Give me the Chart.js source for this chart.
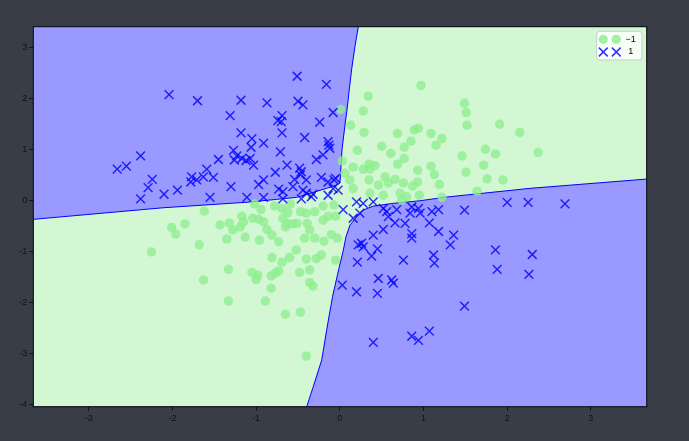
<!DOCTYPE html>
<html>
<head>
<meta charset="utf-8">
<script src="https://cdn.jsdelivr.net/npm/chart.js@4.4.1/dist/chart.umd.min.js"></script>
<style>
html,body{margin:0;padding:0;background:#383d48;}
#marco{width:689px;height:441px;}
</style>
</head>
<body>
<div id="marco"><canvas id="graficoRegiones" width="689" height="441"></canvas></div>
<script>

// limites de los ejes y marcas
const xLimits = [-3.662, 3.667];
const yLimits = [-4.04, 3.40];
const xTicks = [-3, -2, -1, 0, 1, 2, 3];
const yTicks = [-4, -3, -2, -1, 0, 1, 2, 3];

// clases
const classLabels = ["\u22121", "1"];

// clase -1 (circulos verdes)
const pointsNeg = [
    [0.97,2.25],[0.34,2.04],[0.01,1.78],[0.28,1.75],[1.49,1.90],[1.51,1.72],[1.52,1.47],[1.91,1.49],
    [2.15,1.33],[2.37,0.94],[0.13,1.47],[0.29,1.33],[0.69,1.31],[0.89,1.38],[0.94,1.41],[1.09,1.31],
    [1.22,1.21],[1.15,1.08],[0.85,1.16],[0.77,1.04],[0.50,1.06],[0.61,0.92],[0.77,0.82],[0.69,0.71],
    [0.21,0.98],[0.03,0.77],[0.16,0.65],[0.28,0.61],[0.35,0.71],[0.42,0.68],[0.36,0.61],[0.93,0.59],
    [1.09,0.67],[1.13,0.51],[1.46,0.87],[1.74,1.00],[1.86,0.91],[1.51,0.55],[1.72,0.69],[1.76,0.42],
    [1.95,0.40],[1.64,0.18],[0.54,0.46],[0.66,0.41],[0.76,0.34],[0.46,0.30],[0.58,0.34],[0.35,0.40],
    [0.12,0.40],[0.06,0.53],[0.16,0.23],[0.36,0.14],[0.52,0.10],[0.72,0.14],[0.80,0.07],[0.93,0.36],
    [0.87,0.28],[1.19,0.31],[0.95,0.10],[1.22,0.06],[0.74,0.01],
    [-1.62,-0.21],[-2.01,-0.53],[-1.96,-0.66],[-1.85,-0.46],[-2.25,-1.01],[-1.68,-0.87],[-1.63,-1.56],
    [-1.43,-0.48],[-1.32,-0.44],[-1.28,-0.58],[-1.35,-0.76],[-1.17,-0.31],[-1.15,-0.42],[-1.19,-0.52],
    [-1.04,-0.35],[-1.13,-0.72],[-1.02,-0.07],[-0.94,-0.18],[-0.97,-0.37],[-0.91,-0.42],[-0.87,-0.57],
    [-0.96,-0.78],[-0.81,-0.68],[-0.73,-0.81],[-0.78,-0.11],[-0.69,-0.16],[-0.59,-0.07],[-0.62,-0.24],
    [-0.68,-0.35],[-0.63,-0.45],[-0.65,-0.52],[-0.56,-0.46],[-0.47,-0.22],[-0.40,-0.25],[-0.30,-0.22],
    [-0.20,-0.11],[-0.07,-0.09],[-0.14,-0.31],[-0.05,-0.31],[-0.20,-0.39],[-0.36,-0.58],[-0.30,-0.74],
    [-0.42,-0.74],[-0.19,-0.80],[-0.10,-0.67],[-0.03,-0.74],[-0.51,-0.45],[-0.39,-0.45],[-0.52,-0.97],
    [-0.40,-1.15],[-0.28,-1.14],[-0.22,-1.07],[-0.60,-1.12],[-0.69,-1.21],[-0.81,-1.12],[-0.73,-1.38],
    [-0.77,-1.42],[-0.82,-1.48],[-0.48,-1.41],[-0.36,-1.36],[-0.05,-1.17],[-1.33,-1.35],[-1.05,-1.41],
    [-0.98,-1.46],[-1.00,-1.55],[-0.82,-1.72],[-0.36,-1.61],[-0.32,-1.68],[-1.33,-1.97],[-0.89,-1.97],
    [-0.65,-2.23],[-0.47,-2.19],[-0.40,-3.05]
];

// clase 1 (cruces azules)
const pointsPos = [
    [-2.04,2.07],[-1.70,1.95],[-1.18,1.96],[-0.87,1.91],[-0.50,1.94],[-0.44,1.87],[-0.16,2.27],[-0.51,2.43],
    [-1.31,1.66],[-0.69,1.66],[-0.74,1.56],[-0.70,1.54],[-0.08,1.72],[-0.24,1.53],[-1.18,1.32],[-0.69,1.32],
    [-1.05,1.21],[-0.91,1.12],[-0.42,1.23],[-1.06,1.04],[-1.27,0.98],[-0.71,0.95],[-0.14,1.15],[-0.13,1.08],
    [-0.12,1.02],[-0.20,0.89],[-0.28,0.80],[-1.23,0.87],[-1.17,0.82],[-1.26,0.79],[-1.07,0.82],[-1.12,0.78],
    [-1.03,0.69],[-1.45,0.80],[-2.38,0.87],[-2.55,0.67],[-2.66,0.61],[-1.59,0.61],[-1.63,0.46],[-1.51,0.45],
    [-1.77,0.46],[-1.71,0.40],[-1.78,0.36],[-2.24,0.41],[-2.29,0.25],[-2.38,0.03],[-2.10,0.12],[-1.94,0.20],
    [-1.55,0.06],[-1.30,0.27],[-0.77,0.55],[-0.63,0.69],[-0.48,0.63],[-0.47,0.50],[-0.54,0.41],[-0.40,0.40],
    [-0.22,0.45],[-0.91,0.40],[-0.97,0.31],[-0.73,0.22],[-0.68,0.17],[-0.56,0.27],[-0.44,0.20],[-0.40,0.14],
    [-0.32,0.12],[-0.34,0.07],[-1.11,0.06],[-0.91,0.06],[-0.68,0.03],[-0.46,0.03],[-0.14,0.10],[-0.07,0.40],
    [-0.08,0.23],[-0.02,0.20],[-0.05,0.43],[-0.14,0.36],[-0.46,0.56],
    [0.04,-0.18],[0.20,-0.03],[0.28,-0.06],[0.40,-0.03],[0.16,-0.35],[0.24,-0.25],[0.52,-0.16],[0.56,-0.22],
    [0.68,-0.18],[0.86,-0.13],[0.94,-0.16],[0.84,-0.25],[0.96,-0.25],[0.66,-0.44],[0.78,-0.45],[0.58,-0.32],
    [1.10,-0.22],[1.18,-0.18],[1.07,-0.44],[1.18,-0.61],[1.49,-0.19],[2.00,-0.04],[2.25,-0.04],[2.69,-0.07],
    [0.52,-0.57],[0.40,-0.68],[0.86,-0.65],[0.86,-0.74],[1.36,-0.68],[1.32,-0.87],[0.22,-0.87],[0.26,-0.84],
    [0.28,-0.91],[0.45,-0.95],[0.38,-1.09],[0.21,-1.21],[0.76,-1.17],[1.12,-1.07],[1.13,-1.23],[1.86,-0.97],
    [2.30,-1.06],[1.88,-1.35],[2.26,-1.45],[0.46,-1.53],[0.62,-1.56],[0.64,-1.62],[0.03,-1.66],[0.20,-1.79],
    [0.45,-1.82],[1.49,-2.07],[0.86,-2.66],[0.94,-2.74],[1.07,-2.56],[0.40,-2.78]
];

// fronteras de decision
const edgeUpperLeft = [
    [-3.662,-0.372],[-2.109,-0.145],[-1.073,-0.033],[-0.754,0.02],[-0.515,0.059],[-0.356,0.137],
    [-0.157,0.235],[-0.037,0.30],[0.002,0.339],[0.014,0.65],[0.026,0.985],[0.062,1.474],
    [0.086,1.767],[0.114,2.179],[0.142,2.570],[0.182,3.020],[0.221,3.40]
];

const edgeLowerRight = [
    [3.667,0.417],[2.272,0.235],[1.277,0.065],[0.958,-0.008],[0.639,-0.059],[0.40,-0.112],
    [0.281,-0.19],[0.202,-0.321],[0.122,-0.483],[0.074,-0.712],[0.042,-0.977],[-0.01,-1.33],
    [-0.087,-1.887],[-0.157,-2.539],[-0.216,-3.126],[-0.317,-3.648],[-0.395,-4.04]
];

const aPuntos = arr => arr.map(p => ({x:p[0], y:p[1]}));

const regiones = {
    id:"regiones",
    beforeDatasetsDraw(chart){
        const {ctx, chartArea:a, scales:{x, y}} = chart;
        ctx.save();
        ctx.fillStyle = "#d2f7d2";
        ctx.fillRect(a.left, a.top, a.width, a.height);
        ctx.fillStyle = "#9999ff";
        const poligono = pts => {
            ctx.beginPath();
            pts.forEach((p, i) => {
                const px = x.getPixelForValue(p[0]);
                const py = y.getPixelForValue(p[1]);
                if(i){ ctx.lineTo(px, py); } else { ctx.moveTo(px, py); }
            });
            ctx.closePath();
            ctx.fill();
        };
        poligono([...edgeUpperLeft, [xLimits[0], yLimits[1]]]);
        poligono([...edgeLowerRight, [xLimits[1], yLimits[0]]]);
        ctx.restore();
    },
    afterDatasetsDraw(chart){
        const {ctx, chartArea:a} = chart;
        ctx.save();
        ctx.strokeStyle = "#000";
        ctx.lineWidth = 1;
        ctx.strokeRect(a.left, a.top, a.width, a.height);
        ctx.restore();
    }
};

const leyenda = {
    id:"leyenda",
    afterDraw(chart){
        const {ctx, chartArea:a} = chart;
        const bx = a.right - 50, by = a.top + 4.6, bw = 45.3, bh = 28.7;
        ctx.save();
        ctx.beginPath();
        ctx.roundRect(bx, by, bw, bh, 3);
        ctx.fillStyle = "rgba(255,255,255,0.8)";
        ctx.fill();
        ctx.strokeStyle = "#cccccc";
        ctx.lineWidth = 1;
        ctx.stroke();

        const filas = [by + 8, by + 20.7];
        const cols = [bx + 6.6, bx + 19.6];

        cols.forEach(cx => {
            ctx.beginPath();
            ctx.arc(cx, filas[0], 4.6, 0, Math.PI * 2);
            ctx.fillStyle = "rgba(144,238,144,0.8)";
            ctx.fill();

            ctx.beginPath();
            ctx.moveTo(cx - 4.4, filas[1] - 4.4);
            ctx.lineTo(cx + 4.4, filas[1] + 4.4);
            ctx.moveTo(cx + 4.4, filas[1] - 4.4);
            ctx.lineTo(cx - 4.4, filas[1] + 4.4);
            ctx.strokeStyle = "rgba(0,0,255,0.8)";
            ctx.lineWidth = 1.5;
            ctx.stroke();
        });

        ctx.fillStyle = "#000";
        ctx.font = "9px 'Liberation Sans'";
        ctx.textAlign = "center";
        ctx.textBaseline = "middle";
        classLabels.forEach((t, i) => ctx.fillText(t, bx + 34, filas[i]));
        ctx.restore();
    }
};

const fuenteEje = {family:"'Liberation Sans'", size:9};

new Chart(
    document.getElementById("graficoRegiones"),
    {
        type:"scatter",
        data:{
            datasets:[
                {
                    label:"frontera1",
                    data:aPuntos(edgeUpperLeft),
                    showLine:true,
                    borderColor:"#0000ff",
                    borderWidth:1,
                    pointRadius:0,
                    order:3
                },
                {
                    label:"frontera2",
                    data:aPuntos(edgeLowerRight),
                    showLine:true,
                    borderColor:"#0000ff",
                    borderWidth:1,
                    pointRadius:0,
                    order:3
                },
                {
                    label:classLabels[0],
                    data:aPuntos(pointsNeg),
                    pointStyle:"circle",
                    pointRadius:4.7,
                    pointBackgroundColor:"rgba(144,238,144,0.8)",
                    pointBorderWidth:0,
                    pointBorderColor:"rgba(0,0,0,0)",
                    order:2
                },
                {
                    label:classLabels[1],
                    data:aPuntos(pointsPos),
                    pointStyle:"crossRot",
                    pointRadius:6.2,
                    pointBorderColor:"rgba(0,0,255,0.8)",
                    pointBorderWidth:1.5,
                    order:1
                }
            ]
        },
        options:{
            responsive:false,
            animation:false,
            devicePixelRatio:1,
            layout:{padding:{left:0, right:42.3, top:26.7, bottom:0}},
            plugins:{legend:{display:false}, tooltip:{enabled:false}},
            scales:{
                x:{
                    type:"linear",
                    min:xLimits[0],
                    max:xLimits[1],
                    afterBuildTicks:s => { s.ticks = xTicks.map(v => ({value:v})); },
                    afterFit:s => { s.height = 34.3; },
                    grid:{drawOnChartArea:false, drawTicks:true, tickLength:4, tickColor:"#111"},
                    border:{display:false},
                    ticks:{color:"#111", font:fuenteEje, padding:2, maxRotation:0}
                },
                y:{
                    type:"linear",
                    min:yLimits[0],
                    max:yLimits[1],
                    afterBuildTicks:s => { s.ticks = yTicks.map(v => ({value:v})); },
                    afterFit:s => { s.width = 33.3; },
                    grid:{drawOnChartArea:false, drawTicks:true, tickLength:4, tickColor:"#111"},
                    border:{display:false},
                    ticks:{color:"#111", font:fuenteEje, padding:2}
                }
            }
        },
        plugins:[regiones, leyenda]
    }
);

</script>
</body>
</html>
